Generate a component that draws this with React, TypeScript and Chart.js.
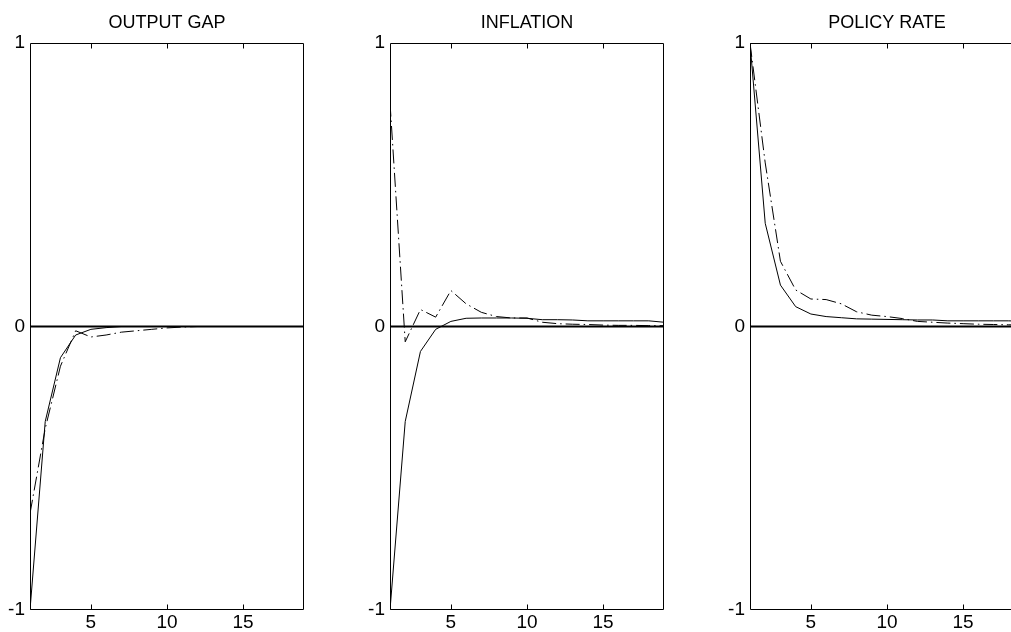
import React, { useEffect, useRef } from "react";
import { Chart, registerables } from "chart.js";

Chart.register(...registerables);

const periods = [1, 2, 3, 4, 5, 6, 7, 8, 9, 10, 11, 12, 13, 14, 15, 16, 17, 18, 19];
const xTicks = [5, 10, 15];
const yTicks = [-1, 0, 1];
const panelTitles = ["OUTPUT GAP", "INFLATION", "POLICY RATE"];

const outputGapSolid = [-1.0, -0.335, -0.11, -0.03, -0.01, -0.004, 0, 0, 0, 0, 0, 0, 0, 0, 0, 0, 0, 0, 0];
const outputGapDashed = [-0.66, -0.36, -0.14, -0.015, -0.037, -0.03, -0.02, -0.015, -0.01, -0.005, -0.002, 0, 0, 0, 0, 0, 0, 0, 0];

const inflationSolid = [-1.0, -0.335, -0.088, -0.01, 0.018, 0.029, 0.03, 0.03, 0.03, 0.029, 0.024, 0.024, 0.023, 0.02, 0.02, 0.02, 0.02, 0.02, 0.015];
const inflationDashed = [0.79, -0.054, 0.06, 0.033, 0.127, 0.08, 0.05, 0.035, 0.03, 0.03, 0.015, 0.01, 0.008, 0.007, 0.005, 0.004, 0.004, 0.003, 0.003];

const policySolid = [1.0, 0.364, 0.146, 0.07, 0.044, 0.035, 0.031, 0.027, 0.026, 0.025, 0.024, 0.023, 0.023, 0.02, 0.02, 0.02, 0.02, 0.02, 0.018];
const policyDashed = [1.0, 0.577, 0.23, 0.129, 0.097, 0.095, 0.08, 0.052, 0.04, 0.035, 0.028, 0.018, 0.015, 0.012, 0.01, 0.008, 0.007, 0.006, 0.005];

const zeroLine = [0, 0, 0, 0, 0, 0, 0, 0, 0, 0, 0, 0, 0, 0, 0, 0, 0, 0, 0];

const FONT = "'Liberation Sans', Arial, sans-serif";

const framePlugin = {
  id: "frame",
  afterDatasetsDraw(chart: any, _args: any, opts: any) {
    const { ctx, chartArea } = chart;
    const xs = chart.scales.x;
    ctx.save();
    ctx.strokeStyle = "#000";
    ctx.lineWidth = 1;
    ctx.beginPath();
    const l = Math.round(chartArea.left) + 0.5;
    const r = Math.round(chartArea.right) - 0.5;
    const t = Math.round(chartArea.top) + 0.5;
    const b = Math.round(chartArea.bottom) - 0.5;
    ctx.rect(l, t, r - l, b - t);
    for (const v of xTicks) {
      const px = Math.round(xs.getPixelForValue(v)) + 0.5;
      ctx.moveTo(px, b);
      ctx.lineTo(px, b - 5);
      ctx.moveTo(px, t);
      ctx.lineTo(px, t + 5);
    }
    ctx.stroke();
    ctx.fillStyle = "#000";
    ctx.font = `18px ${FONT}`;
    ctx.textAlign = "center";
    ctx.textBaseline = "middle";
    ctx.fillText(opts.text, (chartArea.left + chartArea.right) / 2, 23);
    ctx.restore();
  },
};

function Panel({ title, solid, dashed, left }: { title: string; solid: number[]; dashed: number[]; left: number }) {
  const ref = useRef<HTMLCanvasElement>(null);
  useEffect(() => {
    const canvas = ref.current!;
    const toPts = (arr: number[]) => periods.map((p, i) => ({ x: p, y: arr[i] }));
    const chart = new Chart(canvas, {
      type: "line",
      data: {
        datasets: [
          { data: toPts(zeroLine), borderColor: "#000", borderWidth: 2, pointRadius: 0 },
          { data: toPts(solid), borderColor: "#000", borderWidth: 1, pointRadius: 0 },
          { data: toPts(dashed), borderColor: "#000", borderWidth: 1, pointRadius: 0, borderDash: [14, 4, 1.5, 4] },
        ],
      },
      options: {
        animation: false,
        responsive: false,
        maintainAspectRatio: false,
        layout: { padding: { left: 0, right: 16, top: 43, bottom: 0 } },
        plugins: {
          legend: { display: false },
          tooltip: { enabled: false },
          title: { display: false },
          frame: { text: title },
        },
        scales: {
          x: {
            type: "linear",
            min: 1,
            max: 19,
            grid: { display: false, drawTicks: false },
            border: { display: false },
            afterBuildTicks: (s: any) => {
              s.ticks = xTicks.map((v) => ({ value: v }));
            },
            afterFit: (s: any) => {
              s.height = 22;
            },
            ticks: {
              autoSkip: false,
              maxRotation: 0,
              padding: 1,
              color: "#000",
              font: { family: FONT, size: 19 },
            },
          },
          y: {
            type: "linear",
            min: -1,
            max: 1,
            grid: { display: false, drawTicks: false },
            border: { display: false },
            afterBuildTicks: (s: any) => {
              s.ticks = yTicks.map((v) => ({ value: v }));
            },
            afterFit: (s: any) => {
              s.width = 40;
            },
            ticks: {
              autoSkip: false,
              padding: 5,
              color: "#000",
              font: { family: FONT, size: 19 },
              callback: (v: any) => String(v),
            },
          },
        },
      } as any,
      plugins: [framePlugin],
    });
    return () => chart.destroy();
  }, [title, solid, dashed]);
  return (
    <canvas
      ref={ref}
      width={330}
      height={632}
      style={{ position: "absolute", left: left - 40, top: 0, width: 330, height: 632 }}
    />
  );
}

export default function App() {
  return (
    <div
      style={{
        position: "fixed",
        left: 0,
        top: 0,
        width: 1011,
        height: 632,
        overflow: "hidden",
        background: "#fff",
      }}
    >
      <Panel title={panelTitles[0]} solid={outputGapSolid} dashed={outputGapDashed} left={30} />
      <Panel title={panelTitles[1]} solid={inflationSolid} dashed={inflationDashed} left={390} />
      <Panel title={panelTitles[2]} solid={policySolid} dashed={policyDashed} left={750} />
    </div>
  );
}
